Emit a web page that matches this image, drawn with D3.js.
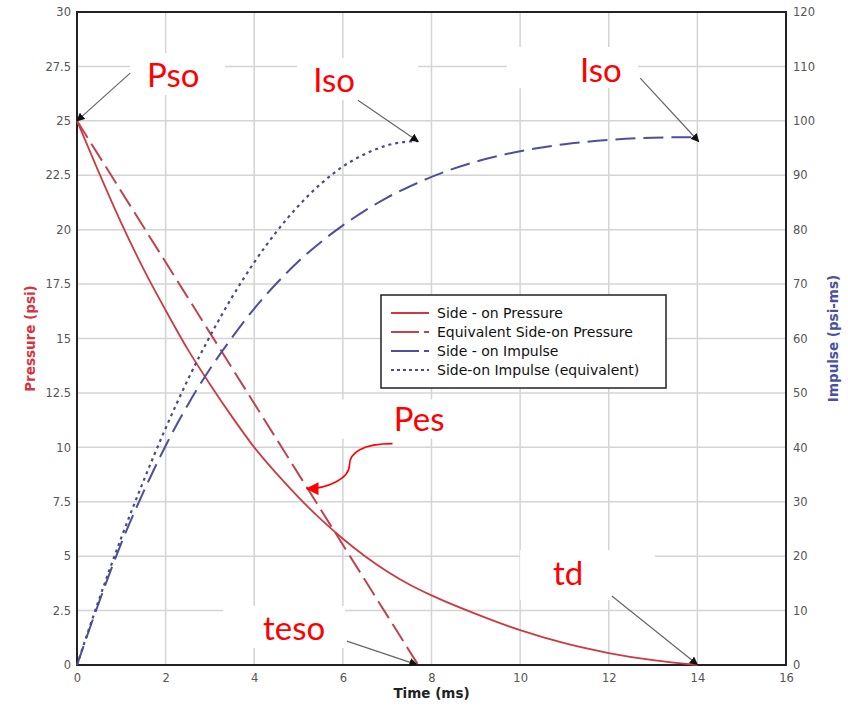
<!DOCTYPE html>
<html>
<head>
<meta charset="utf-8">
<script src="https://cdn.jsdelivr.net/npm/d3@7"></script>
<style>
  body { margin: 0; background: #fff; }
  svg { display: block; }
  .tick-label { font-family: "DejaVu Sans", Verdana, sans-serif; font-size: 11.5px; fill: #555; }
  .legend text { font-family: "DejaVu Sans", Verdana, sans-serif; font-size: 14px; fill: #111; }
  .title { font-family: "DejaVu Sans", Verdana, sans-serif; font-size: 13.5px; font-weight: bold; }
  .note { font-family: Lato, "Open Sans", sans-serif; font-size: 33px; fill: #ff0000; }
</style>
</head>
<body>
<svg id="chart" width="848" height="706"></svg>
<script>
// time axis (ms)
const timeTicks = [0, 2, 4, 6, 8, 10, 12, 14, 16];
const pressureTicks = [0, 2.5, 5, 7.5, 10, 12.5, 15, 17.5, 20, 22.5, 25, 27.5, 30];
const impulseTicks = [0, 10, 20, 30, 40, 50, 60, 70, 80, 90, 100, 110, 120];

// side-on pressure (psi)
const sidePressureT = [0, 0.5, 1, 1.5, 2, 2.5, 3, 3.5, 4, 4.5, 5, 5.5, 6, 6.5, 7, 7.5, 8, 9, 10, 11, 12, 13, 14];
const sidePressure = [25, 22.6, 20.3, 18.2, 16.3, 14.5, 12.9, 11.4, 10.0, 8.8, 7.7, 6.7, 5.8, 5.0, 4.3, 3.7, 3.2, 2.35, 1.6, 1.0, 0.55, 0.22, 0];

// equivalent side-on pressure (triangle)
const equivPressureT = [0, 7.7];
const equivPressure = [25, 0];

// side-on impulse (psi-ms)
const sideImpulseT = [0, 0.5, 1, 1.5, 2, 2.5, 3, 3.5, 4, 4.5, 5, 5.5, 6, 6.5, 7, 7.5, 8, 9, 10, 11, 12, 13, 14];
const sideImpulse = [0, 11.6, 22.4, 31.8, 40.3, 47.8, 54.4, 60.2, 65.5, 70.1, 74.2, 77.7, 80.8, 83.5, 85.9, 87.9, 89.7, 92.5, 94.4, 95.7, 96.5, 96.9, 97.0];

// equivalent side-on impulse
const equivImpulseT = [0, 0.5, 1, 1.5, 2, 2.5, 3, 3.5, 4, 4.5, 5, 5.5, 6, 6.5, 7, 7.5, 7.7];
const equivImpulse = [0, 12.1, 23.4, 33.8, 43.5, 52.4, 60.4, 67.6, 74.0, 79.6, 84.4, 88.4, 91.6, 93.9, 95.5, 96.2, 96.25];

const legendLabels = ["Side - on Pressure", "Equivalent Side-on Pressure", "Side - on Impulse", "Side-on Impulse (equivalent)"];

const red = "#cc3a44", redDash = "#c0434f", blue = "#4c4f9e", dotBlue = "#4a4c86";

const margins = { top: 12, left: 77, right: 62, bottom: 41 };
const width = 848, height = 706;
const svg = d3.select("#chart");

const x = d3.scaleLinear().domain([0, 16]).range([margins.left, width - margins.right]);
const yP = d3.scaleLinear().domain([0, 30]).range([height - margins.bottom, margins.top]);
const yI = d3.scaleLinear().domain([0, 120]).range([height - margins.bottom, margins.top]);

// grid
const grid = svg.append("g").attr("class", "grid");
grid.selectAll("line.v").data(timeTicks.slice(1, -1)).enter().append("line")
  .attr("x1", d => x(d)).attr("x2", d => x(d))
  .attr("y1", yP(30)).attr("y2", yP(0))
  .attr("stroke", "#d4d4d4").attr("stroke-width", 1.5);
grid.selectAll("line.h").data(pressureTicks.slice(1, -1)).enter().append("line")
  .attr("x1", x(0)).attr("x2", x(16))
  .attr("y1", d => yP(d)).attr("y2", d => yP(d))
  .attr("stroke", "#d4d4d4").attr("stroke-width", 1.5);

// axes (labels only)
const xAxis = d3.axisBottom(x).tickValues(timeTicks).tickSize(0).tickPadding(9);
const yAxisL = d3.axisLeft(yP).tickValues(pressureTicks).tickSize(0).tickPadding(6).tickFormat(d3.format("~g"));
const yAxisR = d3.axisRight(yI).tickValues(impulseTicks).tickSize(0).tickPadding(7);

[[xAxis, "translate(0," + yP(0) + ")"], [yAxisL, "translate(" + x(0) + ",0)"], [yAxisR, "translate(" + x(16) + ",0)"]]
  .forEach(([ax, tr]) => {
    const g = svg.append("g").attr("transform", tr).call(ax);
    g.select(".domain").remove();
    g.selectAll("text").attr("class", "tick-label").attr("font-size", null).attr("font-family", null);
  });

// frame
svg.append("rect")
  .attr("x", x(0)).attr("y", yP(30))
  .attr("width", x(16) - x(0)).attr("height", yP(0) - yP(30))
  .attr("fill", "none").attr("stroke", "#222").attr("stroke-width", 2);

// axis titles
svg.append("text").attr("class", "title")
  .attr("transform", "translate(35," + (yP(15)) + ") rotate(-90)")
  .attr("text-anchor", "middle")
  .attr("fill", "#d8333d").text("Pressure (psi)");
svg.append("text").attr("class", "title")
  .attr("transform", "translate(838," + (yP(15)) + ") rotate(-90)")
  .attr("text-anchor", "middle")
  .attr("fill", "#4a4fa2").text("Impulse (psi-ms)");
svg.append("text").attr("class", "title")
  .attr("x", x(8)).attr("y", 698)
  .attr("text-anchor", "middle")
  .attr("fill", "#222").text("Time (ms)");

// series
const series = [
  { t: sidePressureT, v: sidePressure, y: yP, color: red, dash: null, w: 1.8 },
  { t: equivPressureT, v: equivPressure, y: yP, color: redDash, dash: "20,7", w: 2 },
  { t: sideImpulseT, v: sideImpulse, y: yI, color: blue, dash: "20,8", w: 2 },
  { t: equivImpulseT, v: equivImpulse, y: yI, color: dotBlue, dash: "3,4", w: 2.2 }
];
series.forEach(s => {
  const line = d3.line().x(d => x(d[0])).y(d => s.y(d[1])).curve(d3.curveMonotoneX);
  svg.append("path")
    .datum(s.t.map((t, i) => [t, s.v[i]]))
    .attr("d", line)
    .attr("fill", "none")
    .attr("stroke", s.color)
    .attr("stroke-width", s.w)
    .attr("stroke-dasharray", s.dash);
});

// legend
const legend = svg.append("g").attr("class", "legend").attr("transform", "translate(381,295)");
legend.append("rect").attr("width", 285).attr("height", 93)
  .attr("fill", "#fff").attr("stroke", "#222").attr("stroke-width", 1.5);
const legDash = [null, "28,5,5,40", "28,5,5,40", "3,3"];
legendLabels.forEach((lab, i) => {
  const yy = 18 + i * 19;
  legend.append("line")
    .attr("x1", 10).attr("x2", 48).attr("y1", yy).attr("y2", yy)
    .attr("stroke", series[i].color).attr("stroke-width", 2)
    .attr("stroke-dasharray", legDash[i]);
  legend.append("text").attr("x", 56).attr("y", yy + 5).text(lab);
});

// annotations (positions in data units: time, pressure)
svg.append("defs").append("marker")
  .attr("id", "head").attr("viewBox", "0 0 10 10").attr("refX", 9).attr("refY", 5)
  .attr("markerWidth", 7).attr("markerHeight", 7).attr("orient", "auto")
  .append("path").attr("d", "M0,0 L10,5 L0,10 z").attr("fill", "#111");
svg.select("defs").append("marker")
  .attr("id", "headRed").attr("viewBox", "0 0 10 10").attr("refX", 9).attr("refY", 5)
  .attr("markerWidth", 8).attr("markerHeight", 8).attr("orient", "auto")
  .append("path").attr("d", "M0,0 L10,5 L0,10 z").attr("fill", "#ff0000");

const notes = [
  { text: "Pso", tx: 1.58, ty: 26.55, box: [1.2, 3.34, 28.11, 26.18], from: [1.2, 27.19], to: [0, 25] },
  { text: "Iso", tx: 5.33, ty: 26.32, box: [4.97, 7.7, 27.88, 25.95], from: [6.34, 25.95], to: [7.7, 24.05] },
  { text: "Iso", tx: 11.35, ty: 26.78, box: [9.7, 12.66, 28.39, 26.5], from: [12.71, 26.96], to: [14.03, 24.05] },
  { text: "Pes", tx: 7.15, ty: 10.75, box: [5.9, 8.9, 12.2, 10.4], from: null, to: null },
  { text: "teso", tx: 4.2, ty: 1.15, box: [3.3, 6.05, 2.71, 0.78], from: [6.09, 1.1], to: [7.67, 0.02] },
  { text: "td", tx: 10.74, ty: 3.67, box: [10.0, 13.04, 5.28, 2.99], from: [12.07, 3.17], to: [14.0, 0.02] }
];
notes.forEach(n => {
  svg.append("rect")
    .attr("x", x(n.box[0])).attr("y", yP(n.box[2]))
    .attr("width", x(n.box[1]) - x(n.box[0])).attr("height", yP(n.box[3]) - yP(n.box[2]))
    .attr("fill", "#fff");
});
notes.forEach(n => {
  svg.append("text").attr("class", "note").attr("x", x(n.tx)).attr("y", yP(n.ty)).text(n.text);
  if (n.from) {
    svg.append("line")
      .attr("x1", x(n.from[0])).attr("y1", yP(n.from[1]))
      .attr("x2", x(n.to[0])).attr("y2", yP(n.to[1]))
      .attr("stroke", "#666").attr("stroke-width", 1.2)
      .attr("marker-end", "url(#head)");
  }
});

// Pes curved arrow onto the equivalent pressure line
const pesFrom = [7.12, 10.17], pesMid = [6.15, 9.2], pesTo = [5.19, 8.1];
svg.append("path")
  .attr("d", "M" + x(pesFrom[0]) + "," + yP(pesFrom[1]) +
    " C" + (x(pesFrom[0]) - 30) + "," + yP(pesFrom[1]) + " " + x(pesMid[0]) + "," + (yP(pesMid[1]) - 12) + " " + x(pesMid[0]) + "," + yP(pesMid[1]) +
    " C" + x(pesMid[0]) + "," + (yP(pesMid[1]) + 14) + " " + (x(pesTo[0]) + 20) + "," + yP(pesTo[1]) + " " + x(pesTo[0]) + "," + yP(pesTo[1]))
  .attr("fill", "none").attr("stroke", "#ff0000").attr("stroke-width", 1.6)
  .attr("marker-end", "url(#headRed)");
</script>
</body>
</html>
